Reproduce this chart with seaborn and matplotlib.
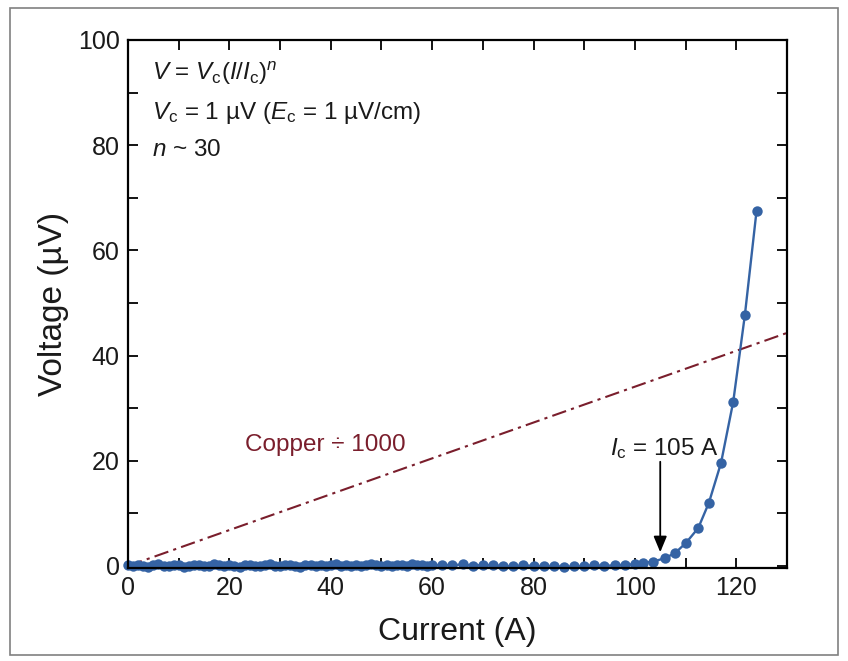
import matplotlib
matplotlib.use("Agg")
import matplotlib.pyplot as plt
import seaborn as sns
import pandas as pd
from matplotlib.patches import Rectangle
from matplotlib.ticker import MultipleLocator

# ---------------- data ----------------
current_low = [0, 1, 2, 3, 4, 5, 6, 7, 8, 9,
               10, 11, 12, 13, 14, 15, 16, 17, 18, 19,
               20, 21, 22, 23, 24, 25, 26, 27, 28, 29,
               30, 31, 32, 33, 34, 35, 36, 37, 38, 39,
               40, 41, 42, 43, 44, 45, 46, 47, 48, 49,
               50, 51, 52, 53, 54, 55, 56, 57, 58, 59, 60,
               62, 64, 66, 68, 70, 72, 74, 76, 78, 80,
               82, 84, 86, 88, 90, 92, 94, 96, 98, 100]
voltage_low = [0.1, -0.1, 0.2, 0.0, -0.2, 0.1, 0.3, 0.0, -0.1, 0.2,
               0.1, -0.2, 0.0, 0.2, 0.1, -0.1, 0.0, 0.3, 0.1, -0.1,
               0.2, 0.0, -0.2, 0.1, 0.2, 0.0, -0.1, 0.1, 0.3, 0.0,
               -0.1, 0.2, 0.1, 0.0, -0.2, 0.1, 0.2, 0.0, 0.1, -0.1,
               0.2, 0.3, 0.0, 0.1, -0.1, 0.2, 0.0, 0.1, 0.3, 0.1,
               0.0, 0.2, -0.1, 0.1, 0.2, 0.0, 0.3, 0.1, 0.2, 0.0, 0.1,
               0.2, 0.1, 0.3, 0.0, 0.2, 0.1, 0.0, -0.1, 0.1, 0.0,
               -0.1, 0.0, -0.2, -0.1, 0.0, 0.1, 0.0, 0.1, 0.2, 0.3]
current_high = [101.6, 103.6, 106.0, 108.0, 110.1, 112.5, 114.6, 117.0, 119.4, 121.7, 124.0]
voltage_high = [0.6, 0.8, 1.5, 2.5, 4.4, 7.2, 12.0, 19.6, 31.2, 47.7, 67.5]

copper_current = [0, 130]
copper_voltage = [0.0, 44.3]

x_ticks = [0, 20, 40, 60, 80, 100, 120]
y_ticks = [0, 20, 40, 60, 80, 100]

df = pd.DataFrame({"Current": current_low + current_high,
                   "Voltage": voltage_low + voltage_high})
df_cu = pd.DataFrame({"Current": copper_current, "Voltage": copper_voltage})

# ---------------- style ----------------
sns.set_theme(style="ticks")
plt.rcParams["font.family"] = ["Liberation Sans", "DejaVu Sans"]
plt.rcParams["mathtext.fontset"] = "custom"
plt.rcParams["mathtext.rm"] = "Liberation Sans"
plt.rcParams["mathtext.it"] = "Liberation Sans:italic"
plt.rcParams["mathtext.bf"] = "Liberation Sans:bold"
plt.rcParams["text.color"] = "black"
plt.rcParams["axes.labelcolor"] = "black"

BLUE = "#3563a4"
RED = "#7a1e2c"
TXT = "#1a1a1a"

fig = plt.figure(figsize=(8.48, 6.61), dpi=100)
ax = fig.add_axes([0.151, 0.1407, 0.777, 0.7988])

sns.lineplot(data=df_cu, x="Current", y="Voltage", ax=ax, color=RED,
             linewidth=1.5, sort=True)
ax.lines[-1].set_linestyle((0, (7, 2.5, 1.5, 2.5)))

sns.lineplot(data=df, x="Current", y="Voltage", ax=ax, color=BLUE,
             linewidth=1.7, marker="o", markersize=7.5, markeredgewidth=0,
             sort=True)
for ln in ax.lines:
    ln.set_clip_on(False)

ax.set_xlim(0, 130)
ax.set_ylim(-0.4, 100)
ax.set_xticks(x_ticks)
ax.set_yticks(y_ticks)
ax.xaxis.set_minor_locator(MultipleLocator(10))
ax.yaxis.set_minor_locator(MultipleLocator(10))
ax.tick_params(which="both", direction="in", length=7, width=1.3,
               top=True, right=True, labelsize=18, colors="black", pad=6)
for lab in ax.get_xticklabels() + ax.get_yticklabels():
    lab.set_color(TXT)
for s in ax.spines.values():
    s.set_linewidth(1.6)
    s.set_color("black")

ax.set_xlabel("Current (A)", fontsize=23, labelpad=12, color=TXT)
ax.set_ylabel("Voltage (µV)", fontsize=24, color=TXT)
ax.yaxis.set_label_coords(-0.09, 0.5)

# annotations
FS = 17.5
ax.text(4.7, 93.7, r"$V$ = $V_\mathrm{c}$($I$/$I_\mathrm{c}$)$^n$",
        fontsize=FS, va="center", ha="left", color=TXT)
ax.text(4.7, 86.1, r"$V_\mathrm{c}$ = 1 µV ($E_\mathrm{c}$ = 1 µV/cm)",
        fontsize=FS, va="center", ha="left", color=TXT)
ax.text(4.7, 79.1, r"$n$ ~ 30", fontsize=FS, va="center", ha="left", color=TXT)

ax.text(38.9, 23.0, "Copper ÷ 1000", color=RED, fontsize=FS,
        va="center", ha="center")

ax.text(105.8, 22.4, r"$I_\mathrm{c}$ = 105 A", fontsize=FS,
        va="center", ha="center", color=TXT)
ax.annotate("", xy=(105, 2.6), xytext=(105, 19.8),
            arrowprops=dict(arrowstyle="-|>,head_length=0.6,head_width=0.25",
                            color="black", lw=1.3,
                            mutation_scale=16, shrinkA=0, shrinkB=0))

# outer frame
fig.patches.append(Rectangle((10 / 848, 1 - 655 / 661), 828 / 848, 647 / 661,
                             transform=fig.transFigure, fill=False,
                             edgecolor="#808080", linewidth=1.2))

fig.savefig("out.png", dpi=100)
